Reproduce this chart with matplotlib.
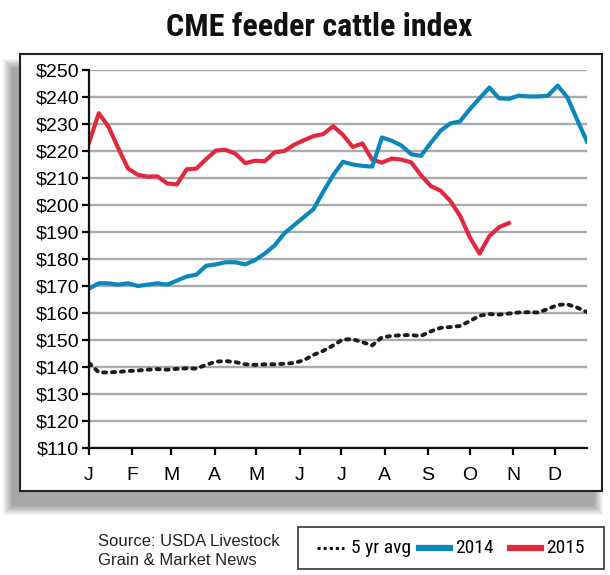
import matplotlib
matplotlib.use("Agg")
from matplotlib import pyplot as plt
from matplotlib.patches import Rectangle
from matplotlib.lines import Line2D

W, H = 610, 575

# weekly readings, x = day of year
week_day = [7 * i for i in range(52)]
avg5 = [141.5, 138, 138, 138.2, 138.5, 138.7, 139, 139.2, 139, 139.3,
        139.5, 139.4, 140.8, 142, 142.2, 141.8, 141, 140.8, 141, 141,
        141.2, 141.5, 142.5, 144.5, 146, 148, 150.2, 150.3, 149.2, 148,
        151, 151.5, 151.8, 151.8, 151.5, 153.2, 154.5, 154.8, 155.2, 157,
        159, 159.6, 159.4, 159.8, 160.2, 160.3, 160.2, 161.5, 163, 163.2,
        162, 160.3]
y2014 = [169, 171, 171, 170.5, 171, 170, 170.5, 171, 170.5, 172,
         173.5, 174.2, 177.5, 178, 178.8, 178.8, 178, 179.6, 182, 185,
         189.5, 192.5, 195.5, 198.5, 205, 211, 216, 215, 214.5, 214.2,
         225, 223.8, 222, 218.8, 218.2, 223, 227.5, 230.2, 231, 235.5,
         239.5, 243.5, 239.5, 239.3, 240.5, 240.2, 240.2, 240.5, 244.2, 239.8,
         231.5, 223.5]
y2015 = [223, 234, 229, 221, 213.5, 211.2, 210.5, 210.6, 208, 207.6,
         213.2, 213.5, 217, 220.2, 220.4, 219, 215.5, 216.4, 216.2, 219.5,
         220, 222.3, 224, 225.5, 226.3, 229.2, 226, 221.5, 222.8, 216.8,
         215.7, 217.2, 216.8, 215.8, 211, 207, 205.3, 201.5, 196, 188,
         182, 188.5, 191.8, 193.3]

month_start = [0, 31, 59, 90, 120, 151, 181, 212, 243, 273, 304, 334]
month_label = ["J", "F", "M", "A", "M", "J", "J", "A", "S", "O", "N", "D"]
price_ticks = list(range(110, 251, 10))

BLUE = "#0b87bb"
RED = "#e1283f"
GRID = "#a9abae"


def fx(px):
    return px / W


def fy(py):
    return 1 - py / H


plt.rcParams['font.family'] = ['Liberation Sans', 'DejaVu Sans']
narrow = ['Roboto Condensed', 'DejaVu Sans Condensed', 'Liberation Sans Narrow', 'Liberation Sans']

fig = plt.figure(figsize=(W / 100, H / 100), dpi=100)

# drop shadow + frame
x0, x1, y0, y1 = 20, 602, 54, 491
for k in range(10):
    fig.patches.append(Rectangle((fx(12 - k), fy(506 + k)), (582 + 2 * k) / W, (438 + 2 * k) / H,
                                 transform=fig.transFigure, fc="black", ec="none",
                                 alpha=0.038, zorder=-3))
fig.patches.append(Rectangle((fx(x0), fy(y1)), (x1 - x0) / W, (y1 - y0) / H,
                             transform=fig.transFigure, fc="white", ec="#222222",
                             lw=1.5, zorder=-1))

fig.text(fx(319), fy(27), "CME feeder cattle index", family=narrow, weight="bold",
         stretch="condensed", size=23, ha="center", va="center", color="#111111")

ax = fig.add_axes([fx(89), fy(448), (587 - 89) / W, (448 - 70) / H])
ax.patch.set_visible(False)
ax.plot(week_day, avg5, color="#1c1c1c", lw=2.8, ls=(0, (0.8, 1.5)),
        dash_capstyle="round", solid_joinstyle="round")
ax.plot(week_day[:len(y2015)], y2015, color=RED, lw=3, solid_joinstyle="round")
ax.plot(week_day, y2014, color=BLUE, lw=3, solid_joinstyle="round")

ax.set_xlim(0, 357)
ax.set_ylim(110, 250)
ax.set_yticks(price_ticks)
ax.set_yticklabels(["$%d" % v for v in price_ticks])
ax.set_xticks(month_start)
ax.set_xticklabels(month_label)
ax.yaxis.grid(True, color=GRID, lw=1.7)
ax.set_axisbelow(True)
for s in ["top", "right"]:
    ax.spines[s].set_visible(False)
for s in ["left", "bottom"]:
    ax.spines[s].set_linewidth(1.6)
    ax.spines[s].set_color("#111111")
ax.tick_params(axis="y", direction="out", length=5, width=1.6, labelsize=14, pad=2)
ax.tick_params(axis="x", direction="out", length=5, width=1.6, labelsize=14, pad=9)

fig.text(fx(98), fy(551), "Source: USDA Livestock\nGrain & Market News", size=12,
         ha="left", va="center", linespacing=1.4, color="#222222")

# legend
fig.patches.append(Rectangle((fx(298), fy(569)), (604 - 298) / W, (569 - 527) / H,
                             transform=fig.transFigure, fc="white", ec="#333333", lw=1.2))
ly = fy(548)
fig.add_artist(Line2D([fx(317), fx(344)], [ly, ly], color="#111111", lw=2.2,
                      ls=(0, (1, 1))))
fig.text(fx(351), ly, "5 yr avg", family=narrow, stretch="condensed", size=14,
         ha="left", va="center")
fig.add_artist(Line2D([fx(419), fx(450)], [ly, ly], color=BLUE, lw=4.5))
fig.text(fx(455), ly, "2014", family=narrow, stretch="condensed", size=14,
         ha="left", va="center")
fig.add_artist(Line2D([fx(510), fx(541)], [ly, ly], color=RED, lw=4.5))
fig.text(fx(546), ly, "2015", family=narrow, stretch="condensed", size=14,
         ha="left", va="center")

fig.savefig("out.png", dpi=100)
